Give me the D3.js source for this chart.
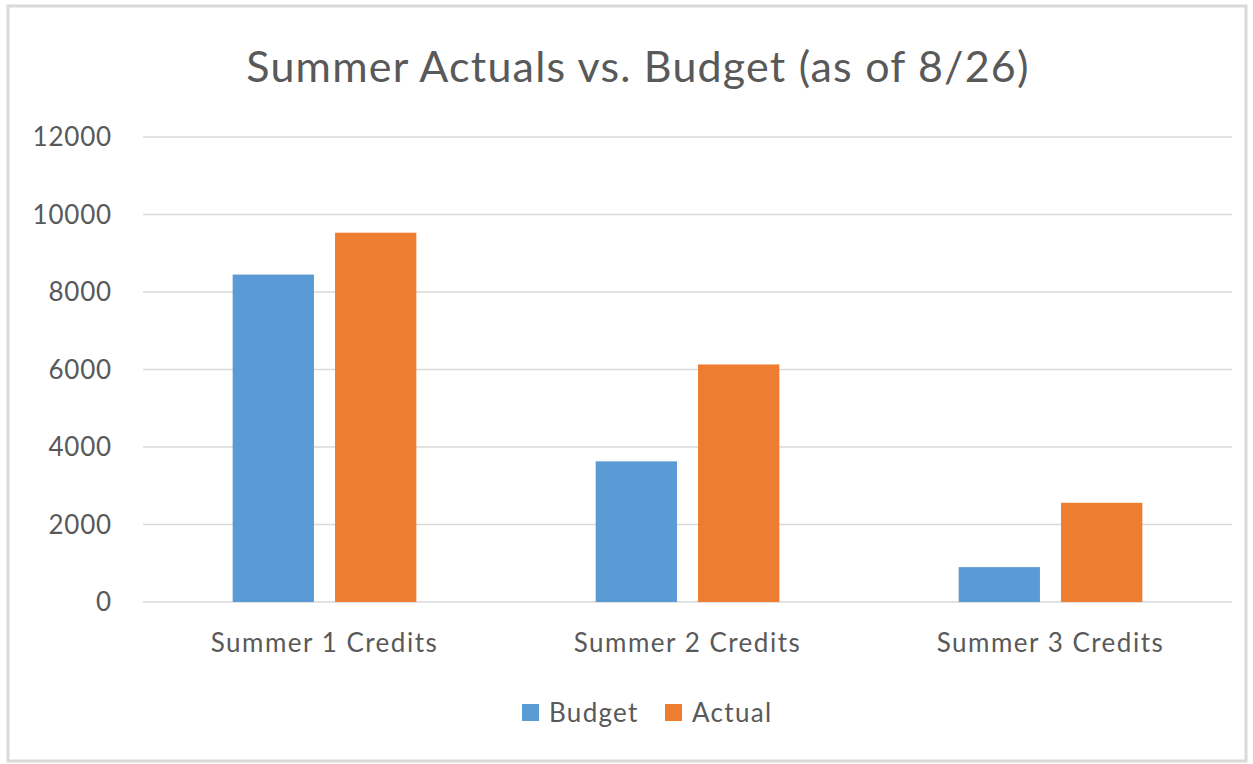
<!DOCTYPE html>
<html>
<head>
<meta charset="utf-8">
<script src="https://cdn.jsdelivr.net/npm/d3@7"></script>
<style>
  body { margin: 0; background: #fff; }
  svg { display: block; font-family: Lato, "Open Sans", sans-serif; }
</style>
</head>
<body>
<svg width="1253" height="764"></svg>
<script>
// data
const categories = ["Summer 1 Credits", "Summer 2 Credits", "Summer 3 Credits"];
const seriesNames = ["Budget", "Actual"];
const budget = [8450, 3630, 900];
const actual = [9530, 6130, 2560];
const yTicks = [0, 2000, 4000, 6000, 8000, 10000, 12000];
const colors = { Budget: "#5B9BD5", Actual: "#ED7D31" };

const svg = d3.select("svg");
const textColor = "#595959";

// chart frame
svg.append("rect")
  .attr("x", 8).attr("y", 6)
  .attr("width", 1238).attr("height", 755)
  .attr("fill", "#fff")
  .attr("stroke", "#d9d9d9")
  .attr("stroke-width", 3);

const plot = { left: 143, right: 1232, top: 137, bottom: 602 };

const x = d3.scaleBand()
  .domain(categories)
  .range([plot.left, plot.right]);

const y = d3.scaleLinear()
  .domain([0, 12000])
  .range([plot.bottom, plot.top]);

// bar positions inside each category
const barW = x.bandwidth() * 0.224;
const gap = x.bandwidth() * 0.058;
const inner = d3.scaleOrdinal()
  .domain(seriesNames)
  .range([-gap / 2 - barW, gap / 2]);

// gridlines
svg.append("g")
  .selectAll("line")
  .data(yTicks)
  .enter().append("line")
  .attr("x1", plot.left)
  .attr("x2", plot.right)
  .attr("y1", d => y(d))
  .attr("y2", d => y(d))
  .attr("stroke", "#d9d9d9")
  .attr("stroke-width", 1.5);

// y tick labels
svg.append("g")
  .selectAll("text")
  .data(yTicks)
  .enter().append("text")
  .attr("x", 112)
  .attr("y", d => y(d) + 9)
  .attr("text-anchor", "end")
  .attr("font-size", 26)
  .attr("letter-spacing", 0.8)
  .attr("fill", textColor)
  .text(d => d);

// bars
const rows = categories.map((c, i) => ({ cat: c, Budget: budget[i], Actual: actual[i] }));
const groups = svg.append("g")
  .selectAll("g")
  .data(rows)
  .enter().append("g")
  .attr("transform", d => `translate(${x(d.cat) + x.bandwidth() / 2},0)`);

groups.selectAll("rect")
  .data(d => seriesNames.map(s => ({ s, v: d[s] })))
  .enter().append("rect")
  .attr("x", d => inner(d.s))
  .attr("width", barW)
  .attr("y", d => y(d.v))
  .attr("height", d => y(0) - y(d.v))
  .attr("fill", d => colors[d.s]);

// category labels
svg.append("g")
  .selectAll("text")
  .data(categories)
  .enter().append("text")
  .attr("x", d => x(d) + x.bandwidth() / 2)
  .attr("y", 652)
  .attr("text-anchor", "middle")
  .attr("font-size", 26)
  .attr("letter-spacing", 1.5)
  .attr("fill", textColor)
  .text(d => d);

// title
svg.append("text")
  .attr("x", 638)
  .attr("y", 82)
  .attr("text-anchor", "middle")
  .attr("font-size", 43)
  .attr("letter-spacing", 1.2)
  .attr("fill", textColor)
  .text("Summer Actuals vs. Budget (as of 8/26)");

// legend
const legendX = [522, 665];
const legend = svg.append("g")
  .selectAll("g")
  .data(seriesNames)
  .enter().append("g")
  .attr("transform", (d, i) => `translate(${legendX[i]},704)`);

legend.append("rect")
  .attr("width", 17).attr("height", 17)
  .attr("fill", d => colors[d]);

legend.append("text")
  .attr("x", 27)
  .attr("y", 18)
  .attr("font-size", 26)
  .attr("letter-spacing", 1.3)
  .attr("fill", textColor)
  .text(d => d);
</script>
</body>
</html>
